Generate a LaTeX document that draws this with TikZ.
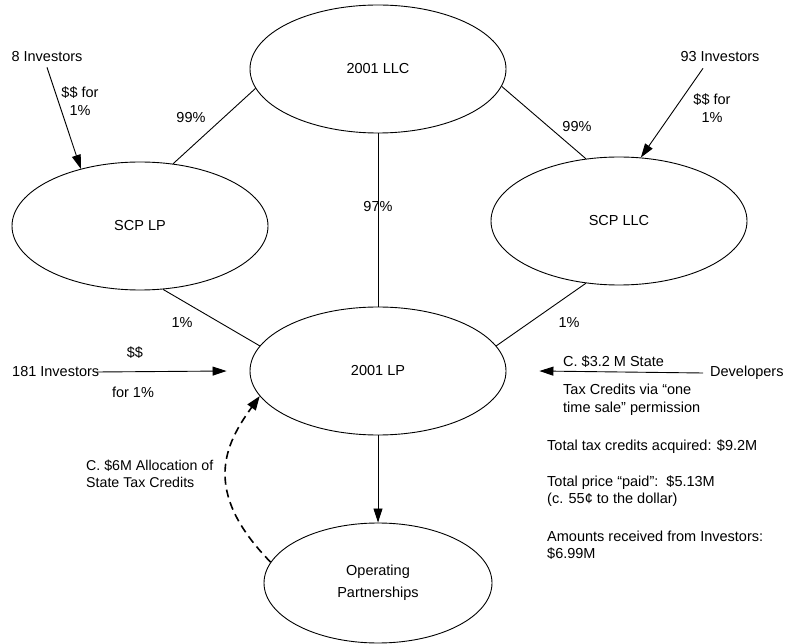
\documentclass[tikz,border=0pt]{standalone}
\usepackage{fontspec}
\setmainfont{Liberation Sans}
\usetikzlibrary{arrows.meta,shapes.geometric}
\begin{document}
\begin{tikzpicture}[x=1pt,y=-1pt,
  every node/.style={font=\fontsize{14.5}{17.5}\selectfont, inner sep=0pt},
  ent/.style={draw, ellipse, line width=0.9pt, minimum width=256pt, minimum height=128pt},
  link/.style={line width=0.9pt},
  arr/.style={line width=0.9pt, -{Triangle[length=14pt,width=9pt]}},
  darr/.style={line width=1.6pt, dash pattern=on 8pt off 5pt, -{Triangle[length=14pt,width=10pt]}},
  lbl/.style={align=center},
  txt/.style={anchor=west, align=left}]
\useasboundingbox (0,0) rectangle (788,644);
% entities
\node[ent] (llc) at (378,69) {2001 LLC};
\node[ent] (scplp) at (140,226) {SCP LP};
\node[ent] (scpllc) at (619,221) {SCP LLC};
\node[ent] (lp) at (378,371) {2001 LP};
\node[ent, minimum width=228pt, minimum height=120pt, align=center] (op) at (378,583) {Operating\\[4pt]Partnerships};
% ownership links
\draw[link] (llc.189) -- (scplp.62) ;
\draw[link] (llc.352) -- (scpllc.118);
\draw[link] (llc.south) -- (lp.north);
\draw[link] (scplp.290) -- (lp.168);
\draw[link] (scpllc.242) -- (lp.12);
\node (p1) at (191,118) {99\%};
\node (p2) at (577,127) {99\%};
\node (p3) at (378,207) {97\%};
\node (p4) at (182,323) {1\%};
\node (p5) at (569,323) {1\%};
% investors
\node (inv8) at (47,57) {8 Investors};
\draw[arr] ([yshift=-5pt]inv8.south) -- (scplp.136);
\node[lbl] (l8) at (80,101) {\$\$ for\\1\%};
\node (inv93) at (720,57) {93 Investors};
\draw[arr] ([xshift=-17pt,yshift=-6pt]inv93.south) -- (scpllc.71);
\node[lbl] (l93) at (712,108) {\$\$ for\\1\%};
\node[anchor=west] (inv181) at (12,372) {181 Investors};
\coordinate (e181) at ([xshift=-23pt]lp.west);
\draw[arr] ([xshift=-3pt]inv181.east) -- (e181);
\node (l181a) at (135,353) {\$\$};
\node (l181b) at (133,392) {for 1\%};
% developers
\node[anchor=west] (dev) at (710,373) {Developers};
\coordinate (edev) at ([xshift=33pt]lp.east);
\draw[arr] ([xshift=-7pt]dev.west) -- (edev);
\node[txt] (dl1) at (563,362) {C. \$3.2 M State};
\node[txt] (dl2) at (563,400) {Tax Credits via “one\\time sale” permission};
% summary
\node[txt] (s1) at (547,447) {Total tax credits acquired: \$9.2M};
\node[txt] (s2) at (547,491) {Total price “paid”:\ \ \$5.13M\\(c. 55¢ to the dollar)};
\node[txt] (s3) at (547,545) {Amounts received from Investors:\\\$6.99M};
% flows to operating partnerships
\draw[arr] (lp.south) -- (op.north);
\draw[darr] (op.169) .. controls (200,490) and (226,443) .. (lp.192);
\node[txt, font=\fontsize{14.2}{17.5}\selectfont] (al) at (86,474) {C. \$6M Allocation of\\State Tax Credits};
\end{tikzpicture}
\end{document}
